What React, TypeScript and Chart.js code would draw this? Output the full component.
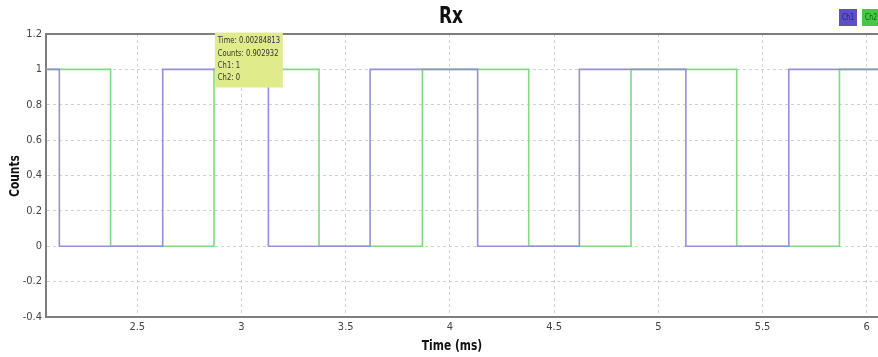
import React, { useEffect, useRef } from "react";
import { Chart, registerables } from "chart.js";

Chart.register(...registerables);

// Time (ms) at each level change, and the level held from that time onwards
const ch1Times = [2.062, 2.126, 2.622, 3.129, 3.617, 4.133, 4.621, 5.132, 5.626, 6.054];
const ch1Levels = [1, 0, 1, 0, 1, 0, 1, 0, 1, 1];
const ch2Times = [2.062, 2.372, 2.868, 3.372, 3.868, 4.378, 4.869, 5.376, 5.869, 6.054];
const ch2Levels = [1, 0, 1, 0, 1, 0, 1, 0, 1, 1];

const xTicks = [2.5, 3, 3.5, 4, 4.5, 5, 5.5, 6];
const yTicks = [-0.4, -0.2, 0, 0.2, 0.4, 0.6, 0.8, 1, 1.2];
const xMin = 2.062;
const xMax = 6.054;
const yMin = -0.4;
const yMax = 1.2;

const titleText = "Rx";
const xTitle = "Time (ms)";
const yTitle = "Counts";
const legendLabels = ["Ch1", "Ch2"];
const tipTime = 2.84813;
const tipCounts = 0.902932;
const tipLines = ["Time: 0.00284813", "Counts: 0.902932", "Ch1: 1", "Ch2: 0"];

const NARROW = "'Liberation Sans Narrow', 'DejaVu Sans Condensed', 'Liberation Sans', sans-serif";
const CH1 = "rgb(150,142,226)";
const CH2 = "rgb(128,218,128)";

function squeezed(ctx: CanvasRenderingContext2D, t: string, x: number, y: number, k: number) {
  const w = ctx.measureText(t).width;
  ctx.fillText(t, x, y, w * k);
}

const decorPlugin = {
  id: "decor",
  afterDraw(chart: any) {
    const ctx = chart.ctx as CanvasRenderingContext2D;
    const a = chart.chartArea;
    const xs = chart.scales.x;
    const ys = chart.scales.y;
    ctx.save();
    // top frame
    ctx.strokeStyle = "#7d7d7d";
    ctx.lineWidth = 2;
    ctx.beginPath();
    ctx.moveTo(a.left - 1, a.top);
    ctx.lineTo(a.right, a.top);
    ctx.stroke();

    // title
    ctx.fillStyle = "#111";
    ctx.font = `bold 23px ${NARROW}`;
    ctx.textAlign = "center";
    ctx.textBaseline = "middle";
    squeezed(ctx, titleText, 451, 17, 0.82);

    // axis titles
    ctx.font = `bold 14px ${NARROW}`;
    squeezed(ctx, xTitle, 452, 346, 0.85);
    ctx.save();
    ctx.translate(15, 176);
    ctx.rotate(-Math.PI / 2);
    squeezed(ctx, yTitle, 0, 0, 0.85);
    ctx.restore();

    // legend
    const boxes = [
      { x: 839, fill: "rgb(92,80,196)", text: "rgb(40,30,120)" },
      { x: 862, fill: "rgb(70,200,70)", text: "rgb(20,90,20)" },
    ];
    ctx.font = `8px ${NARROW}`;
    boxes.forEach((b, i) => {
      ctx.fillStyle = b.fill;
      ctx.fillRect(b.x, 9, 18, 17);
      ctx.fillStyle = b.text;
      ctx.textAlign = "center";
      squeezed(ctx, legendLabels[i], b.x + 9, 18, 0.85);
    });

    // tooltip box
    const px = xs.getPixelForValue(tipTime);
    const py = ys.getPixelForValue(tipCounts);
    const bw = 68;
    const bh = 55;
    const bx = px + 5;
    const by = py + 1 - bh;
    ctx.fillStyle = "rgb(224,236,140)";
    ctx.fillRect(bx, by, bw, bh);
    ctx.fillStyle = "#333";
    ctx.font = `9px ${NARROW}`;
    ctx.textAlign = "left";
    ctx.textBaseline = "middle";
    tipLines.forEach((t, i) => {
      squeezed(ctx, t, bx + 3, by + 8.5 + i * 12.3, 0.84);
    });
    ctx.restore();
  },
};

export default function App() {
  const ref = useRef<HTMLCanvasElement | null>(null);
  useEffect(() => {
    document.body.style.margin = "0";
    const canvas = ref.current!;
    const toPts = (ts: number[], ls: number[]) => ts.map((t, i) => ({ x: t, y: ls[i] }));
    const chart = new Chart(canvas, {
      type: "line",
      data: {
        datasets: [
          {
            label: legendLabels[0],
            data: toPts(ch1Times, ch1Levels),
            borderColor: CH1,
            borderWidth: 1.6,
            pointRadius: 0,
            stepped: true,
            fill: false,
          },
          {
            label: legendLabels[1],
            data: toPts(ch2Times, ch2Levels),
            borderColor: CH2,
            borderWidth: 1.6,
            pointRadius: 0,
            stepped: true,
            fill: false,
          },
        ],
      },
      options: {
        responsive: false,
        animation: false,
        devicePixelRatio: 1,
        layout: { padding: { top: 34, right: 0, left: 0, bottom: 0 } },
        plugins: { legend: { display: false }, title: { display: false }, tooltip: { enabled: false } },
        scales: {
          x: {
            type: "linear",
            min: xMin,
            max: xMax,
            afterBuildTicks: (s: any) => {
              s.ticks = xTicks.map((v) => ({ value: v }));
            },
            afterFit: (s: any) => {
              s.height = 40;
            },
            grid: { color: "#d2d2d2", drawTicks: false },
            border: { display: true, color: "#7d7d7d", width: 2, dash: [3, 3] } as any,
            ticks: {
              padding: 4,
              color: "#444",
              font: { family: NARROW, size: 11 },
              maxRotation: 0,
              callback: (v: any) => String(v),
            },
          },
          y: {
            type: "linear",
            min: yMin,
            max: yMax,
            afterBuildTicks: (s: any) => {
              s.ticks = yTicks.map((v) => ({ value: v }));
            },
            afterFit: (s: any) => {
              s.width = 46;
            },
            grid: { color: "#d2d2d2", drawTicks: false },
            border: { display: true, color: "#7d7d7d", width: 2, dash: [3, 3] } as any,
            ticks: {
              padding: 4,
              color: "#444",
              font: { family: NARROW, size: 11 },
              callback: (v: any) => String(Math.round(Number(v) * 10) / 10),
            },
          },
        },
      },
      plugins: [decorPlugin],
    });
    return () => chart.destroy();
  }, []);
  return (
    <div style={{ width: 878, height: 357 }}>
      <canvas ref={ref} width={878} height={357} style={{ display: "block", width: 878, height: 357 }} />
    </div>
  );
}
